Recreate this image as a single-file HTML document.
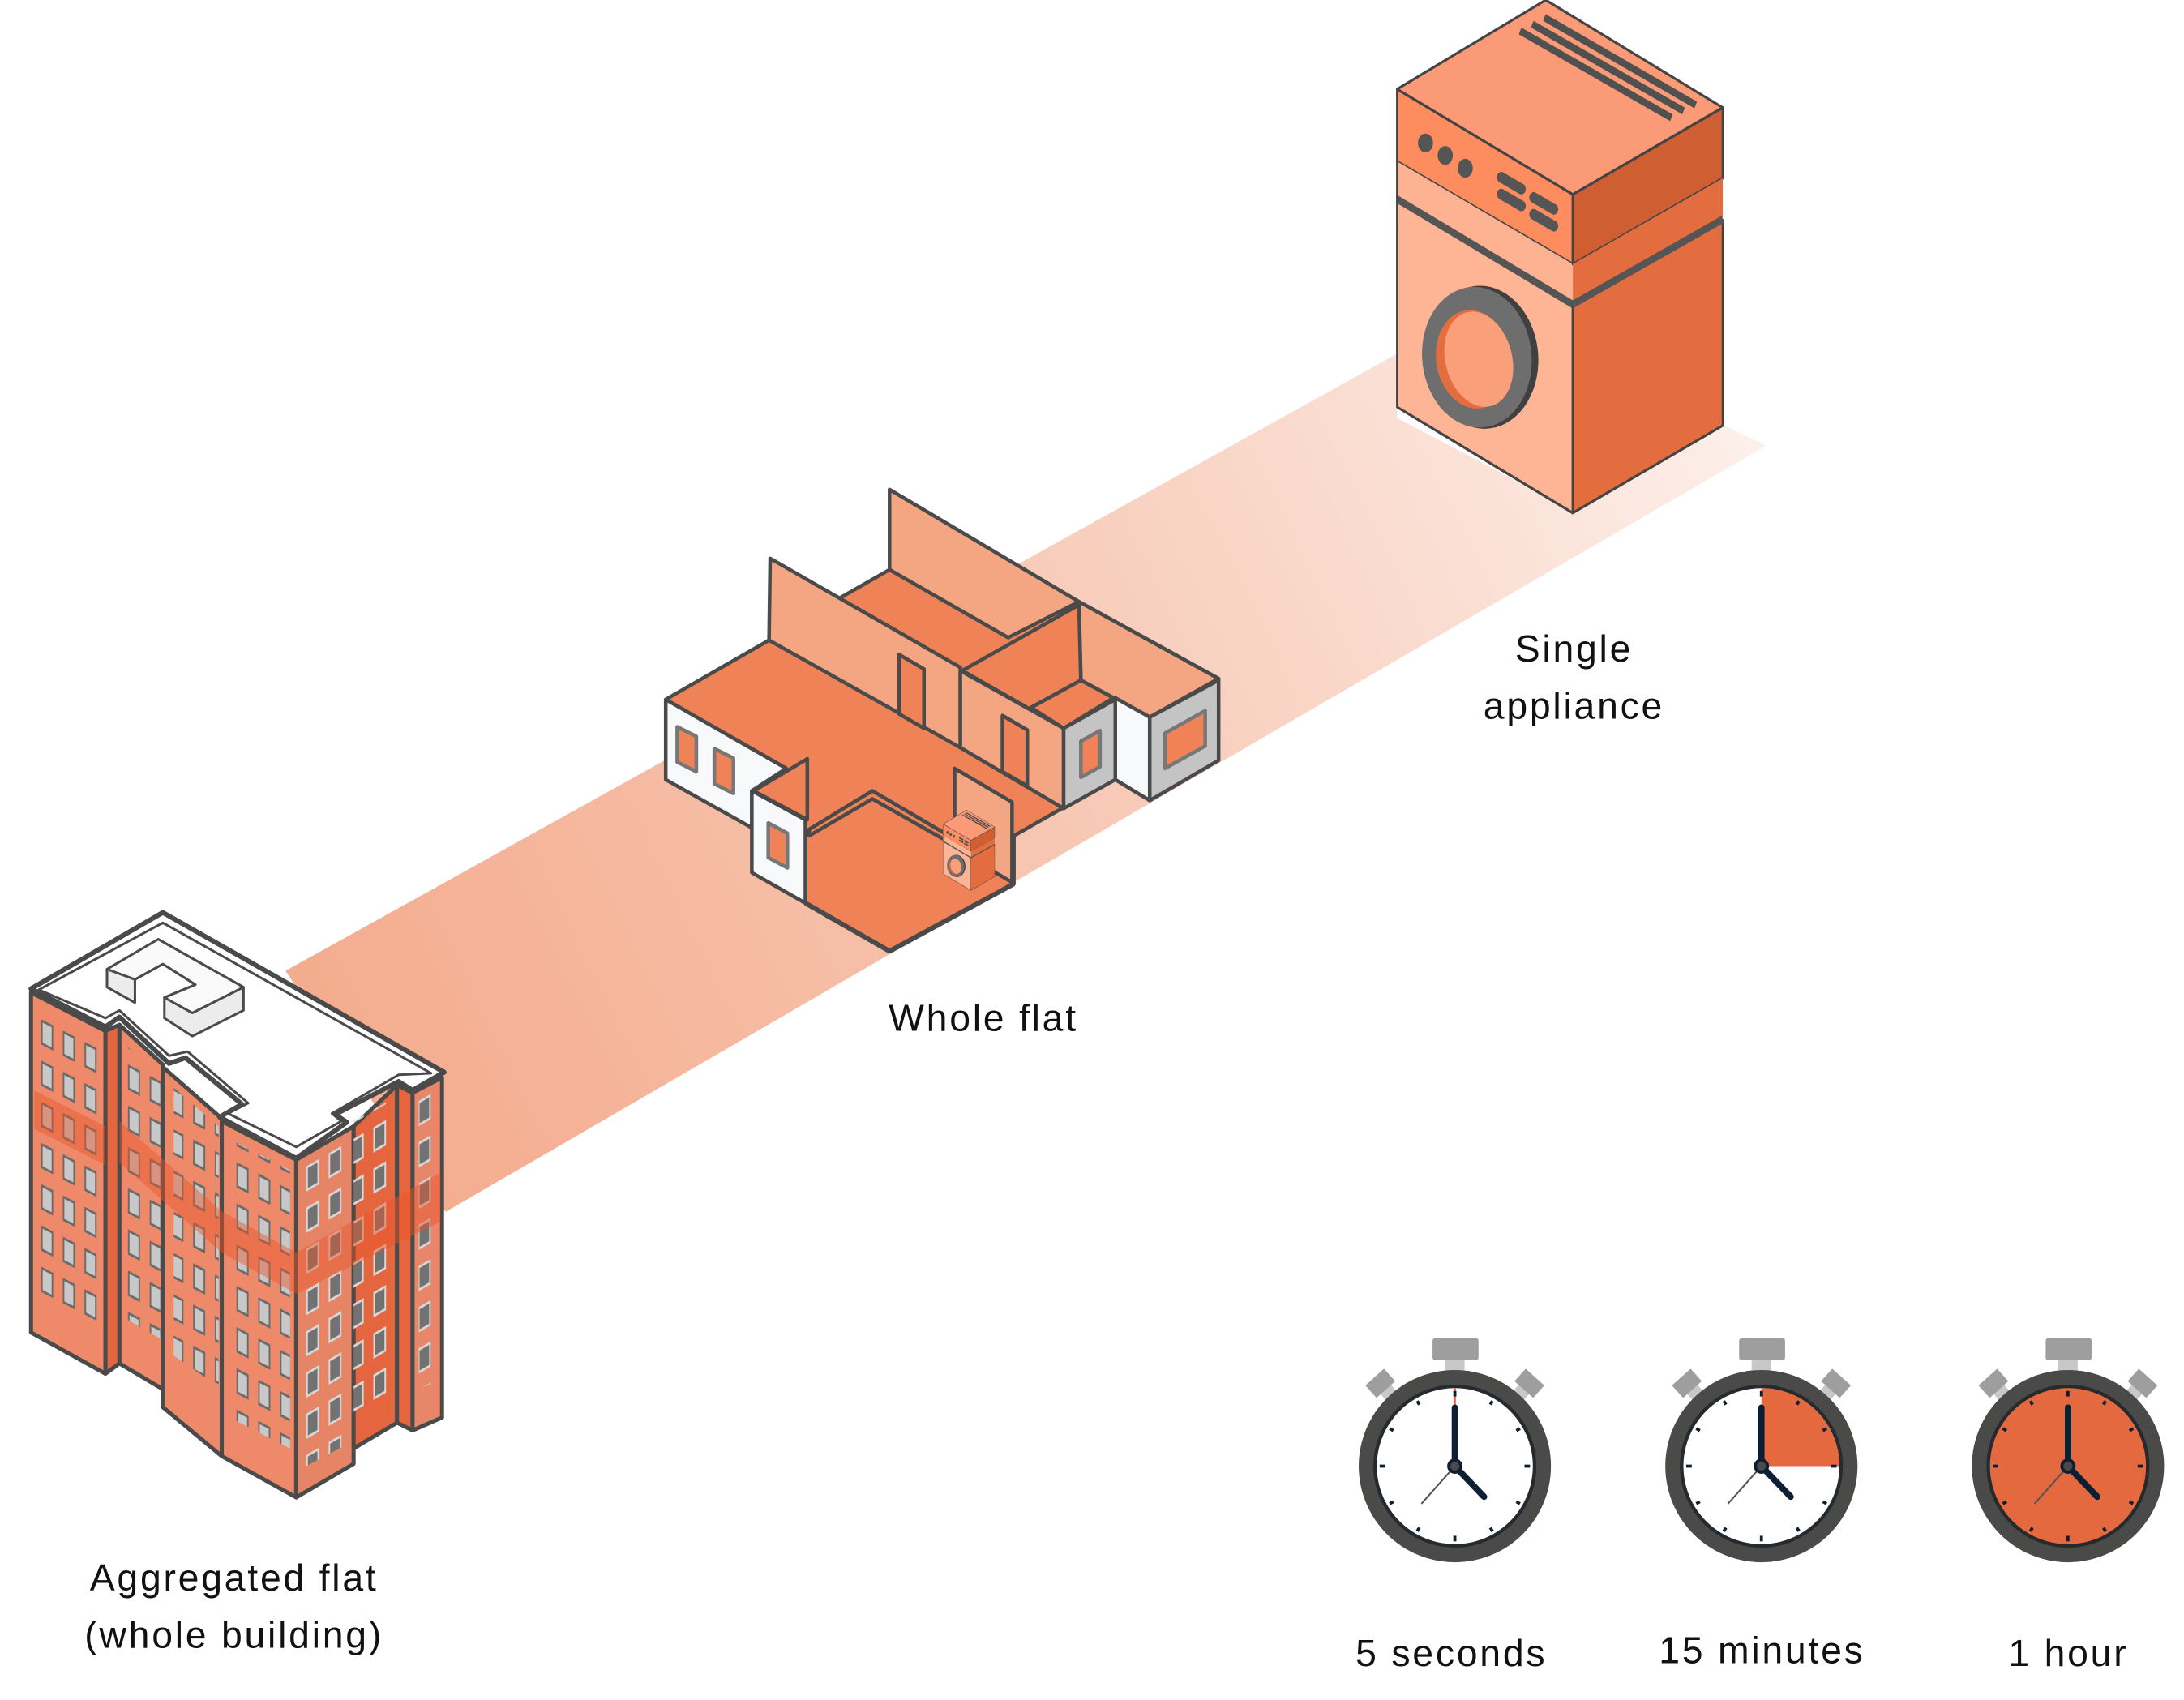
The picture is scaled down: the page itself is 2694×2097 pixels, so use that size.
<!DOCTYPE html>
<html><head><meta charset="utf-8"><style>html,body{margin:0;padding:0;background:#fff}svg{display:block}</style></head>
<body>
<svg xmlns="http://www.w3.org/2000/svg" xmlns:xlink="http://www.w3.org/1999/xlink" width="2694" height="2097" viewBox="0 0 1568 1220.5" preserveAspectRatio="none">
<defs>
<linearGradient id="beam" x1="200" y1="800" x2="1270" y2="280" gradientUnits="userSpaceOnUse">
<stop offset="0" stop-color="#f4a98a"/><stop offset="0.5" stop-color="#f7c7b3"/><stop offset="1" stop-color="#fdf1ec"/>
</linearGradient>
<pattern id="winL" patternUnits="userSpaceOnUse" width="70" height="80" patternTransform="skewY(17.4) translate(61,42)">
<rect x="4" y="6" width="34" height="44" fill="#c8c8c8" stroke="#6a6a6a" stroke-width="5"/>
</pattern>
<pattern id="winR" patternUnits="userSpaceOnUse" width="72" height="80" patternTransform="skewY(-19.3) translate(48,75)">
<rect x="6" y="6" width="36" height="44" fill="#727272" stroke="#d8d8d8" stroke-width="5"/>
</pattern>
<g id="appl" stroke="#444" stroke-width="8" stroke-linejoin="round">
<polygon points="70,265 620,0 1275,320 720,578" fill="#fa9a76"/>
<polygon points="70,265 720,578 720,785 70,480" fill="#fd8c5f"/>
<polygon points="70,480 720,785 720,900 70,595" fill="#fdb392" stroke="none"/>
<polygon points="70,600 720,905 720,1525 70,1210" fill="#fdb595"/>
<polygon points="720,578 1275,320 1275,530 720,785" fill="#cf5f33"/>
<polygon points="720,785 1275,530 1275,650 720,900" fill="#e46d40" stroke="none"/>
<polygon points="720,905 1275,655 1275,1265 720,1525" fill="#e46d40"/>
<line x1="70" y1="592" x2="720" y2="905" stroke="#555" stroke-width="22"/>
<line x1="720" y1="905" x2="1275" y2="652" stroke="#555" stroke-width="22"/>
<polyline points="70,480 70,600" fill="none"/>
<ellipse cx="385" cy="1062" rx="205" ry="215" transform="rotate(-30 385 1062)" fill="#404040" stroke="none"/>
<ellipse cx="365" cy="1062" rx="200" ry="212" transform="rotate(-30 365 1062)" fill="#6e6e6e" stroke="none"/>
<ellipse cx="352" cy="1068" rx="135" ry="150" transform="rotate(-30 352 1068)" fill="#e46d40" stroke="none"/>
<ellipse cx="372" cy="1068" rx="120" ry="148" transform="rotate(-30 372 1068)" fill="#f9a07a" stroke="none"/>
<g fill="#555" stroke="none"><circle cx="175" cy="425" r="28"/><circle cx="248" cy="462" r="28"/><circle cx="322" cy="500" r="28"/></g>
<g stroke="#555" stroke-width="32" stroke-linecap="round"><line x1="455" y1="527" x2="530" y2="562"/><line x1="455" y1="577" x2="530" y2="612"/><line x1="575" y1="587" x2="650" y2="622"/><line x1="575" y1="637" x2="650" y2="672"/></g>
<g stroke="#505050" stroke-width="22"><line x1="525" y1="92" x2="1085" y2="350"/><line x1="570" y1="72" x2="1130" y2="330"/><line x1="615" y1="52" x2="1175" y2="312"/></g>
</g>
<g id="clockbase">
<rect x="-7" y="-77" width="14" height="12" fill="#c8c8c8"/>
<rect x="-16" y="-92" width="33" height="16" rx="2" fill="#9e9e9e"/>
<g transform="rotate(-42)"><rect x="-5" y="-76" width="10" height="14" fill="#c8c8c8"/><rect x="-9" y="-86" width="18" height="12" fill="#9e9e9e"/></g>
<g transform="rotate(42)"><rect x="-5" y="-76" width="10" height="14" fill="#c8c8c8"/><rect x="-9" y="-86" width="18" height="12" fill="#9e9e9e"/></g>
<circle r="69" fill="#4a4a49"/>
<circle r="58.5" fill="#252a2e"/>
</g>
<g id="clockhands">
<g stroke="#0c1f33" stroke-width="2.2">
<line x1="0" y1="-54" x2="0" y2="-50"/><line x1="0" y1="54" x2="0" y2="50"/><line x1="-54" y1="0" x2="-50" y2="0"/><line x1="54" y1="0" x2="50" y2="0"/>
<g transform="rotate(30)"><line y1="-54" y2="-51"/><line y1="54" y2="51"/></g>
<g transform="rotate(60)"><line y1="-54" y2="-51"/><line y1="54" y2="51"/></g>
<g transform="rotate(-30)"><line y1="-54" y2="-51"/><line y1="54" y2="51"/></g>
<g transform="rotate(-60)"><line y1="-54" y2="-51"/><line y1="54" y2="51"/></g>
</g>
<line x1="0" y1="0" x2="-24" y2="27" stroke="#555" stroke-width="1.2"/>
<line x1="0" y1="0" x2="0" y2="-42" stroke="#0c1f33" stroke-width="4.5" stroke-linecap="round"/>
<line x1="0" y1="0" x2="21" y2="22" stroke="#0c1f33" stroke-width="4.5" stroke-linecap="round"/>
<circle r="5.5" fill="#0c1f33"/><circle r="3.2" fill="#4a4a49"/>
</g>
</defs>

<polygon points="205,697 1003,254 1003,300 1130,367 1237,305 1268,320 320,870" fill="url(#beam)"/>

<!-- building -->
<g transform="translate(0,640.3) scale(0.2227,0.370)" stroke="#4a4a4a" stroke-width="5" stroke-linejoin="round">
<polygon vector-effect="non-scaling-stroke" points="100,195 340,270 340,935 100,855" fill="#ee8a6a"/>
<polygon points="128,245 322,306 322,850 128,790" fill="url(#winL)" stroke="none"/>
<polygon vector-effect="non-scaling-stroke" points="340,270 385,258 385,915 340,935" fill="#e5663e"/>
<polygon vector-effect="non-scaling-stroke" points="385,258 525,335 525,965 385,915" fill="#ee8a6a"/>
<polygon points="410,300 525,360 525,870 410,830" fill="url(#winL)" stroke="none"/>
<polygon vector-effect="non-scaling-stroke" points="525,340 715,440 715,1095 525,1000" fill="#ee8a6a"/>
<polygon points="560,380 705,455 705,960 560,900" fill="url(#winL)" stroke="none"/>
<polygon vector-effect="non-scaling-stroke" points="715,445 955,520 955,1175 715,1095" fill="#ee8a6a"/>
<polygon points="740,480 935,540 935,1080 740,1020" fill="url(#winL)" stroke="none"/>
<polygon vector-effect="non-scaling-stroke" points="955,520 1140,455 1140,1110 955,1175" fill="#e58566"/>
<polygon points="985,520 1110,475 1110,1075 985,1115" fill="url(#winR)" stroke="none"/>
<polygon vector-effect="non-scaling-stroke" points="1140,455 1280,375 1280,1030 1140,1080" fill="#e5663e"/>
<polygon points="1140,445 1255,405 1255,980 1140,1020" fill="url(#winR)" stroke="none"/>
<polygon vector-effect="non-scaling-stroke" points="1280,375 1330,390 1330,1045 1280,1030" fill="#e5663e"/>
<polygon vector-effect="non-scaling-stroke" points="1330,390 1425,360 1425,1020 1330,1045" fill="#e8866a"/>
<polygon points="1350,400 1405,382 1405,950 1350,965" fill="url(#winR)" stroke="none"/>
<polygon points="110,385 340,455 340,530 110,460" fill="#e8552a" opacity="0.45" stroke="none"/>
<polygon points="385,445 715,620 955,700 955,780 715,700 385,525" fill="#e8552a" opacity="0.45" stroke="none"/>
<polygon points="955,700 1420,545 1420,640 955,780" fill="#e8552a" opacity="0.45" stroke="none"/>
<polygon vector-effect="non-scaling-stroke" points="100,188 525,40 1432,350 1330,385 1285,368 1080,432 1118,447 955,517 708,437 780,412 598,322 545,333 385,243 340,262" fill="#ffffff" stroke-width="6"/>
<polygon vector-effect="non-scaling-stroke" points="125,190 525,60 1390,352 1285,355 1070,430 1100,445 955,495 735,430 800,410 605,310 545,318 385,230 340,245" fill="none" stroke-width="3"/>
<polygon vector-effect="non-scaling-stroke" points="345,150 510,92 785,185 785,230 620,280 530,245 530,205 630,180 525,140 435,170 435,215 345,185" fill="#ececec" stroke-width="3"/>
<polygon vector-effect="non-scaling-stroke" points="345,150 510,92 785,185 620,235 530,205 630,180 525,140 435,170" fill="#fafafa" stroke-width="3"/>
</g>

<!-- whole flat -->
<g transform="translate(465.6,337.6) scale(0.2747,0.2302)" stroke="#4a4a4a" stroke-width="4.5" stroke-linejoin="round">
<polygon vector-effect="non-scaling-stroke" points="45,715 315,530 505,395 630,310 940,520 1125,410 1490,650 1310,770 1220,710 1085,805 1080,1055 955,1140 955,1290 630,1500 410,1350 410,1090 270,1000 360,930" fill="#ef8357"/>
<polygon vector-effect="non-scaling-stroke" points="630,60 1125,410 940,522 630,310" fill="#f4a582"/>
<polygon vector-effect="non-scaling-stroke" points="318,275 815,615 815,865 315,530" fill="#f4a582"/>
<polygon vector-effect="non-scaling-stroke" points="655,575 720,620 720,805 655,760" fill="#ef8357"/>
<polygon vector-effect="non-scaling-stroke" points="1125,410 1490,650 1310,770 1130,655" fill="#f4a582"/>
<polygon vector-effect="non-scaling-stroke" points="820,625 1125,420 1130,655 1000,740 1085,805" fill="#ef8357"/>
<polygon vector-effect="non-scaling-stroke" points="815,625 1085,805 1085,1055 815,865" fill="#f4a582"/>
<polygon vector-effect="non-scaling-stroke" points="925,765 990,810 990,985 925,940" fill="#ef8357"/>
<polygon vector-effect="non-scaling-stroke" points="1000,740 1130,655 1215,710 1085,805" fill="#ef8357"/>
<polygon vector-effect="non-scaling-stroke" points="1085,805 1220,715 1220,965 1085,1055" fill="#c4c4c4"/>
<polygon vector-effect="non-scaling-stroke" points="1130,845 1180,812 1180,925 1130,958" fill="#ef8357" stroke="#777"/>
<polygon vector-effect="non-scaling-stroke" points="1220,710 1310,770 1310,1030 1220,965" fill="#f8f9fb"/>
<polygon vector-effect="non-scaling-stroke" points="1310,770 1490,655 1490,905 1310,1030" fill="#c4c4c4"/>
<polygon vector-effect="non-scaling-stroke" points="1350,820 1455,750 1455,860 1350,930" fill="#ef8357" stroke="#777"/>
<polygon vector-effect="non-scaling-stroke" points="45,715 360,930 270,1000 270,1115 45,965" fill="#f8f9fb"/>
<polygon vector-effect="non-scaling-stroke" points="75,800 125,830 125,940 75,910" fill="#ef8357" stroke="#777"/>
<polygon vector-effect="non-scaling-stroke" points="172,868 222,898 222,1008 172,978" fill="#ef8357" stroke="#777"/>
<polygon vector-effect="non-scaling-stroke" points="270,1000 410,1090 410,1350 270,1255" fill="#f8f9fb"/>
<polygon vector-effect="non-scaling-stroke" points="313,1100 363,1132 363,1240 313,1208" fill="#ef8357" stroke="#777"/>
<polygon vector-effect="non-scaling-stroke" points="275,1000 415,900 415,1090" fill="#ef8357"/>
<polygon vector-effect="non-scaling-stroke" points="420,1120 585,1000 800,1150 800,1170 585,1025 420,1140" fill="#ef8357"/>
<polygon vector-effect="non-scaling-stroke" points="800,930 950,1035 950,1285 800,1180" fill="#f4a582"/>
<polyline vector-effect="non-scaling-stroke" points="410,1350 630,1500 955,1290" fill="none" stroke-width="6"/>
<use xlink:href="#appl" transform="translate(762,1060) scale(0.112,0.164)"/>
</g>

<g transform="translate(989.5,0) scale(0.194,0.2415)">
<use xlink:href="#appl"/>
</g>

<g transform="translate(1044.5,1052.6)">
<use xlink:href="#clockbase"/><circle r="56" fill="#ffffff"/>
<line x1="0" y1="0" x2="0" y2="-56" stroke="#e5693e" stroke-width="1.5"/>
<use xlink:href="#clockhands"/>
</g>
<g transform="translate(1264.6,1052.6)">
<use xlink:href="#clockbase"/><circle r="56" fill="#ffffff"/>
<path d="M0,0 L0,-56 A56,56 0 0 1 56,0 Z" fill="#e5693e"/>
<use xlink:href="#clockhands"/>
</g>
<g transform="translate(1484.7,1052.6)">
<use xlink:href="#clockbase"/><circle r="56" fill="#e5693e"/>
<use xlink:href="#clockhands"/>
</g>

<g font-family="Liberation Sans, sans-serif" font-size="27" fill="#111" text-anchor="middle" letter-spacing="1.6">
<text x="1130" y="475">Single</text>
<text x="1130" y="516">appliance</text>
<text x="706" y="740">Whole flat</text>
<text x="168" y="1142">Aggregated flat</text>
<text x="168" y="1183">(whole building)</text>
<text x="1042" y="1196">5 seconds</text>
<text x="1265" y="1194">15 minutes</text>
<text x="1485" y="1196">1 hour</text>
</g>
</svg>
</body></html>
